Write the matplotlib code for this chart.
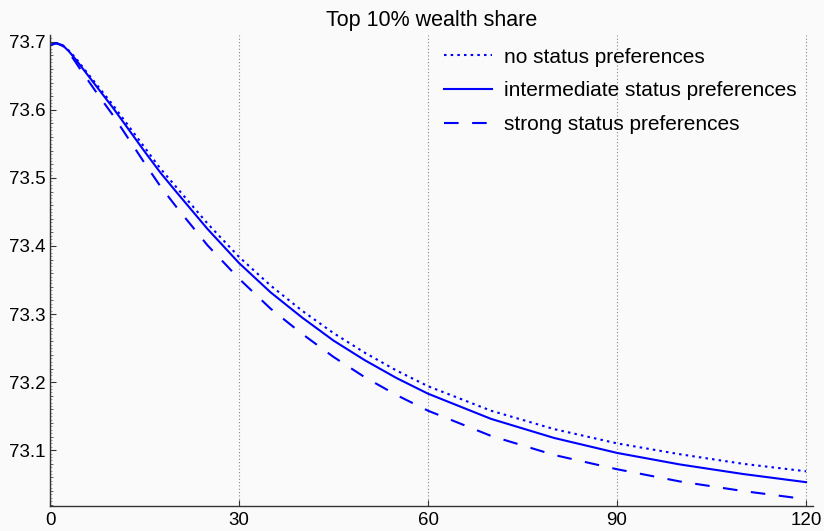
import numpy as np
import matplotlib
matplotlib.use("Agg")
import matplotlib.pyplot as plt
from matplotlib.ticker import MultipleLocator

plt.rcParams['font.family'] = ['Liberation Sans', 'DejaVu Sans']

# simulated top 10% wealth share over time, three status-preference settings
t = [0, 1, 2, 3, 4, 5, 7.5, 10, 12.5, 15, 17.5, 20, 25, 30, 35, 40, 45, 50, 55, 60,
     70, 80, 90, 100, 110, 120]
no_status = [73.695, 73.698, 73.695, 73.687, 73.677, 73.665, 73.636, 73.607, 73.576, 73.545,
             73.514, 73.487, 73.433, 73.384, 73.342, 73.305, 73.272, 73.243, 73.217, 73.194,
             73.158, 73.131, 73.110, 73.094, 73.080, 73.069]
intermediate = [73.695, 73.698, 73.695, 73.686, 73.675, 73.663, 73.633, 73.603, 73.571, 73.539,
                73.508, 73.480, 73.425, 73.375, 73.332, 73.295, 73.261, 73.232, 73.206, 73.183,
                73.146, 73.118, 73.096, 73.079, 73.065, 73.053]
strong = [73.695, 73.698, 73.694, 73.684, 73.671, 73.657, 73.624, 73.592, 73.557, 73.522,
          73.488, 73.458, 73.401, 73.352, 73.308, 73.271, 73.237, 73.207, 73.181, 73.158,
          73.121, 73.093, 73.072, 73.054, 73.040, 73.028]

fig = plt.figure(figsize=(8.24, 5.31), dpi=100)
fig.patch.set_facecolor('#fafafa')
ax = fig.add_axes([50 / 824, 25 / 531, 763 / 824, 471 / 531])
ax.set_facecolor('#fafafa')

ax.plot(t, no_status, color='#0000ff', lw=1.5, ls=(0, (1.2, 2.0)), label='no status preferences')
ax.plot(t, intermediate, color='#0000ff', lw=1.5, label='intermediate status preferences')
ax.plot(t, strong, color='#0000ff', lw=1.5, ls=(0, (7, 6.5)), label='strong status preferences')

ax.set_xlim(0, 121.1)
ax.set_ylim(73.018, 73.710)
ax.set_xticks([0, 30, 60, 90, 120])
ax.yaxis.set_major_locator(MultipleLocator(0.1))
ax.yaxis.set_minor_locator(MultipleLocator(0.02))
ax.set_yticks([73.1, 73.2, 73.3, 73.4, 73.5, 73.6, 73.7])
ax.set_yticklabels(['73.1', '73.2', '73.3', '73.4', '73.5', '73.6', '73.7'])

for side in ['top', 'right']:
    ax.spines[side].set_visible(False)
for side in ['left', 'bottom']:
    ax.spines[side].set_color('#333333')
    ax.spines[side].set_linewidth(1.0)

ax.tick_params(axis='both', which='major', direction='in', length=4, width=0.8,
               color='#333333', labelsize=13.5)
ax.tick_params(axis='x', which='major', pad=4)
ax.tick_params(axis='y', which='major', pad=3)
ax.tick_params(axis='y', which='minor', direction='in', length=2.5, width=0.6, color='#555555')
ax.tick_params(axis='x', which='minor', length=0)

# fine ticks along the y axis
fine = ax.secondary_yaxis('left')
fine.set_yticks(np.arange(73.02, 73.71, 0.005))
fine.tick_params(direction='in', length=1.2, width=0.5, color='#777777', labelleft=False)
fine.spines['left'].set_visible(False)

ax.grid(axis='x', ls=(0, (1, 2)), color='#888888', lw=0.8)
ax.set_axisbelow(True)

ax.set_title('Top 10% wealth share', fontsize=15.5, pad=6.5)

ax.legend(loc='upper left', bbox_to_anchor=(0.492, 1.013), frameon=False, fontsize=15,
          handlelength=2.3, handletextpad=0.58, labelspacing=0.7)

fig.savefig('out.png', dpi=100, facecolor=fig.get_facecolor())
